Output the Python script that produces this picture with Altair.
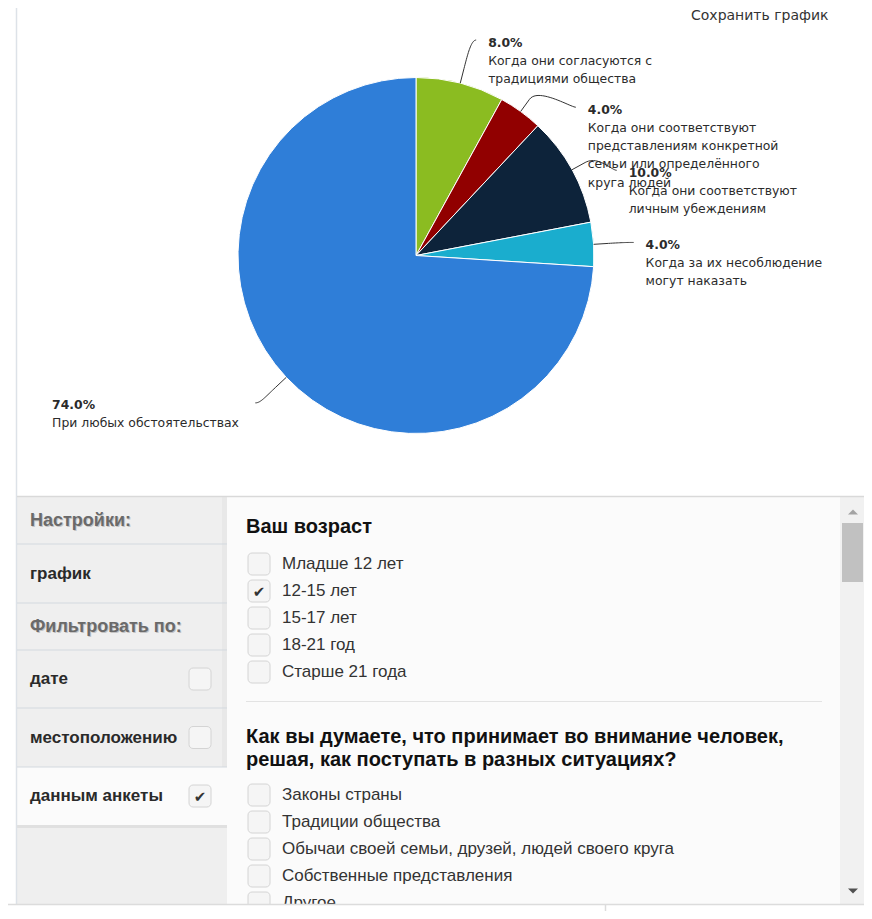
import math
import numpy as np
import pandas as pd
import altair as alt

# ---------------- chart data ----------------
slice_names = [
    "Когда они согласуются с традициями общества",
    "Когда они соответствуют представлениям конкретной семьи или определённого круга людей",
    "Когда они соответствуют личным убеждениям",
    "Когда за их несоблюдение могут наказать",
    "При любых обстоятельствах",
]
slice_lines = [
    ["Когда они согласуются с", "традициями общества"],
    ["Когда они соответствуют", "представлениям конкретной", "семьи или определённого", "круга людей"],
    ["Когда они соответствуют", "личным убеждениям"],
    ["Когда за их несоблюдение", "могут наказать"],
    ["При любых обстоятельствах"],
]
slice_shares = [8.0, 4.0, 10.0, 4.0, 74.0]
slice_colors = ["#8bbc21", "#910000", "#0d233a", "#1aadce", "#2f7ed8"]

save_label = "Сохранить график"

sidebar_items = ["Настройки:", "график", "Фильтровать по:", "дате", "местоположению", "данным анкеты"]
sidebar_kind = ["header", "item", "header", "check", "check", "check"]
sidebar_checked = [False, False, False, False, False, True]

age_title = "Ваш возраст"
age_options = ["Младше 12 лет", "12-15 лет", "15-17 лет", "18-21 год", "Старше 21 года"]
age_checked = [False, True, False, False, False]

q_title = ["Как вы думаете, что принимает во внимание человек,",
           "решая, как поступать в разных ситуациях?"]
q_options = ["Законы страны", "Традиции общества",
             "Обычаи своей семьи, друзей, людей своего круга",
             "Собственные представления", "Другое"]
q_checked = [False, False, False, False, False]

# ---------------- layout (page pixels) ----------------
CX, CY, R = 416.0, 255.5, 178.0
LABEL_DIST = 30.0
CONN_R = 218.0
BREAK = 15.0
label_nudge_y = [-14, 20, 15, 0, 5]
label_nudge_x = [27, 0, 0, 0, 0]
LINE_H = 18.3
CHAR_W = 7.65
LABEL_FONT = "DejaVu Sans"
LABEL_SIZE = 12.4
UI_FONT = "Liberation Sans"

PANEL_TOP, PANEL_BOTTOM = 497.0, 904.0
SIDE_X0, SIDE_X1 = 17.0, 227.0
CONTENT_X1, RIGHT = 840.0, 864.0
side_row_h = [47, 59, 47, 58, 59, 58]
OPT_STEP = 27.0

W, H = 856, 903
sx = alt.Scale(domain=[8, 8 + W], nice=False, zero=False)
sy = alt.Scale(domain=[8, 8 + H], nice=False, zero=False, reverse=True)


def X(f="x"):
    return alt.X(f"{f}:Q", scale=sx, axis=None)


def Y(f="y"):
    return alt.Y(f"{f}:Q", scale=sy, axis=None)


# ---------------- pie ----------------
pie_df = pd.DataFrame({"idx": range(len(slice_names)), "cat": slice_names, "share": slice_shares})
pie = alt.Chart(pie_df).mark_arc(radius=R, stroke="white", strokeWidth=1).encode(
    theta=alt.Theta("share:Q", stack=True),
    order=alt.Order("idx:Q"),
    color=alt.Color("cat:N", scale=alt.Scale(domain=slice_names, range=slice_colors), legend=None),
    x=alt.value(CX - 8),
    y=alt.value(CY - 8),
)

shares = np.array(slice_shares)
start = np.concatenate([[0.0], np.cumsum(shares)[:-1]])
mid = (start + shares / 2) / shares.sum() * 2 * np.pi

conn_rows, pct_rows, name_rows = [], [], []
for i, th in enumerate(mid):
    s, c = math.sin(th), math.cos(th)
    ex, ey = CX + R * s, CY - R * c
    bx, by = CX + (R + BREAK) * s, CY - (R + BREAK) * c
    yc = CY - (R + LABEL_DIST) * c + label_nudge_y[i]
    side = 1 if s >= 0 else -1
    xc = CX + side * math.sqrt(max(CONN_R ** 2 - (yc - CY) ** 2, 0.0)) + label_nudge_x[i]
    p0 = (xc, yc)
    p1 = (xc - 5 * side, yc)
    p2 = (2 * bx - ex, 2 * by - ey)
    p3 = (bx, by)
    ts = np.linspace(0, 1, 24)
    seq = 0
    for t in ts:
        u = 1 - t
        px = u ** 3 * p0[0] + 3 * u * u * t * p1[0] + 3 * u * t * t * p2[0] + t ** 3 * p3[0]
        py = u ** 3 * p0[1] + 3 * u * u * t * p1[1] + 3 * u * t * t * p2[1] + t ** 3 * p3[1]
        conn_rows.append({"sid": i, "seq": seq, "x": px, "y": py})
        seq += 1
    conn_rows.append({"sid": i, "seq": seq, "x": ex, "y": ey})
    if side > 0:
        tx = xc + 12
    else:
        tx = xc - 12 - max(len(l) for l in slice_lines[i]) * CHAR_W
    pct_rows.append({"x": tx, "y": yc + 6.5, "t": f"{slice_shares[i]:.1f}%"})
    name_rows.append({"x": tx, "y": yc + 24.5, "t": "\n".join(slice_lines[i])})

connectors = alt.Chart(pd.DataFrame(conn_rows)).mark_line(color="#333333", strokeWidth=1).encode(
    x=X(), y=Y(), detail="sid:N", order="seq:Q")
pct_text = alt.Chart(pd.DataFrame(pct_rows)).mark_text(
    align="left", baseline="alphabetic", font=LABEL_FONT, fontSize=LABEL_SIZE, fontWeight="bold",
    color="#2b2b2b"
).encode(x=X(), y=Y(), text="t:N")
name_text = alt.Chart(pd.DataFrame(name_rows)).mark_text(
    align="left", baseline="alphabetic", font=LABEL_FONT, fontSize=LABEL_SIZE, color="#2b2b2b",
    lineBreak="\n", lineHeight=LINE_H
).encode(x=X(), y=Y(), text="t:N")

save_text = alt.Chart(pd.DataFrame([{"x": 691, "y": 19.5, "t": save_label}])).mark_text(
    align="left", baseline="alphabetic", font=LABEL_FONT, fontSize=14, color="#333333"
).encode(x=X(), y=Y(), text="t:N")

# ---------------- settings panel ----------------
bounds = [PANEL_TOP]
for h in side_row_h:
    bounds.append(bounds[-1] + h)
row_c = [(bounds[k] + bounds[k + 1]) / 2 for k in range(len(side_row_h))]
sel = sidebar_checked.index(True)

fill_rects = pd.DataFrame([
    {"x": SIDE_X0, "x2": SIDE_X1, "y": PANEL_TOP, "y2": PANEL_BOTTOM, "f": "#efefef"},
    {"x": SIDE_X1 - 5, "x2": SIDE_X1, "y": PANEL_TOP, "y2": bounds[sel], "f": "#e8e8e8"},
    {"x": SIDE_X0, "x2": SIDE_X1, "y": bounds[sel + 1], "y2": bounds[sel + 1] + 3, "f": "#e0e0e0"},
    {"x": SIDE_X0, "x2": SIDE_X1, "y": bounds[sel], "y2": bounds[sel + 1], "f": "#fbfbfb"},
    {"x": SIDE_X1, "x2": CONTENT_X1, "y": PANEL_TOP, "y2": PANEL_BOTTOM, "f": "#fbfbfb"},
    {"x": CONTENT_X1, "x2": RIGHT, "y": PANEL_TOP, "y2": PANEL_BOTTOM, "f": "#f1f1f1"},
    {"x": CONTENT_X1 + 2, "x2": RIGHT - 1, "y": 523, "y2": 582, "f": "#c1c1c1"},
])
fills = alt.Chart(fill_rects).mark_rect().encode(
    x=X(), x2="x2:Q", y=Y(), y2="y2:Q", fill=alt.Fill("f:N", scale=None))

rule_rows = [
    {"x": 16.5, "x2": 16.5, "y": 8, "y2": PANEL_BOTTOM, "c": "#dde2e8", "w": 1.5},
    {"x": SIDE_X0, "x2": RIGHT, "y": PANEL_TOP - 0.5, "y2": PANEL_TOP - 0.5, "c": "#d9d9d9", "w": 1.5},
    {"x": 246, "x2": 822, "y": 701.5, "y2": 701.5, "c": "#e3e3e3", "w": 1},
]
for k in range(1, len(side_row_h)):
    rule_rows.append({"x": SIDE_X0, "x2": SIDE_X1, "y": bounds[k], "y2": bounds[k], "c": "#d3d9df", "w": 1})
rules = alt.Chart(pd.DataFrame(rule_rows)).mark_rule().encode(
    x=X(), x2="x2:Q", y=Y(), y2="y2:Q",
    stroke=alt.Stroke("c:N", scale=None), strokeWidth=alt.StrokeWidth("w:Q", scale=None))

# sidebar texts
hdr = pd.DataFrame([{"x": 30, "y": row_c[k], "t": sidebar_items[k]}
                    for k in range(len(sidebar_items)) if sidebar_kind[k] == "header"])
itm = pd.DataFrame([{"x": 30, "y": row_c[k], "t": sidebar_items[k]}
                    for k in range(len(sidebar_items)) if sidebar_kind[k] != "header"])
hdr_sh = hdr.assign(x=hdr.x + 1, y=hdr.y + 1.5)
side_hdr_shadow = alt.Chart(hdr_sh).mark_text(
    align="left", baseline="middle", font=UI_FONT, fontSize=18, fontWeight="bold", color="#c4c4c4"
).encode(x=X(), y=Y(), text="t:N")
side_hdr = alt.Chart(hdr).mark_text(
    align="left", baseline="middle", font=UI_FONT, fontSize=18, fontWeight="bold", color="#6a6a6a"
).encode(x=X(), y=Y(), text="t:N")
side_itm = alt.Chart(itm).mark_text(
    align="left", baseline="middle", font=UI_FONT, fontSize=17, fontWeight="bold", color="#2a2a2a"
).encode(x=X(), y=Y(), text="t:N")

# checkboxes
box_rows, tick_rows = [], []
for k in range(len(sidebar_items)):
    if sidebar_kind[k] == "check":
        box_rows.append({"x": 189, "x2": 211, "y": row_c[k] - 11, "y2": row_c[k] + 11})
        if sidebar_checked[k]:
            tick_rows.append({"x": 200, "y": row_c[k] + 1})
age_y = [564 + OPT_STEP * i for i in range(len(age_options))]
q_y = [795 + OPT_STEP * i for i in range(len(q_options))]
for yy, chk in list(zip(age_y, age_checked)) + list(zip(q_y, q_checked)):
    box_rows.append({"x": 248, "x2": 270, "y": yy - 11, "y2": yy + 11})
    if chk:
        tick_rows.append({"x": 259, "y": yy + 1})
boxes = alt.Chart(pd.DataFrame(box_rows)).mark_rect(
    cornerRadius=4, fill="#f5f5f5", stroke="#d4d4d4", strokeWidth=1
).encode(x=X(), x2="x2:Q", y=Y(), y2="y2:Q")
ticks = alt.Chart(pd.DataFrame(tick_rows).assign(t="✔")).mark_text(
    align="center", baseline="middle", font="DejaVu Sans", fontSize=15, color="#333333"
).encode(x=X(), y=Y(), text="t:N")

title_rows = [{"x": 246, "y": 526.7, "t": age_title}] + \
             [{"x": 246, "y": 737.3 + 23 * i, "t": q_title[i]} for i in range(len(q_title))]
titles = alt.Chart(pd.DataFrame(title_rows)).mark_text(
    align="left", baseline="middle", font=UI_FONT, fontSize=20, fontWeight="bold", color="#111111"
).encode(x=X(), y=Y(), text="t:N")
opt_rows = [{"x": 282, "y": yy, "t": t} for yy, t in zip(age_y, age_options)] + \
           [{"x": 282, "y": yy, "t": t} for yy, t in zip(q_y, q_options)]
opts = alt.Chart(pd.DataFrame(opt_rows)).mark_text(
    align="left", baseline="middle", font=UI_FONT, fontSize=17, color="#333333"
).encode(x=X(), y=Y(), text="t:N")

# scrollbar arrows
arrows = pd.DataFrame([
    {"x": 853, "y": 512, "s": "M-1,0.5L1,0.5L0,-0.5Z", "c": "#a3a3a3"},
    {"x": 853, "y": 891, "s": "M-1,-0.5L1,-0.5L0,0.5Z", "c": "#505050"},
])
arrow_marks = alt.Chart(arrows).mark_point(filled=True, size=100, opacity=1).encode(
    x=X(), y=Y(), shape=alt.Shape("s:N", scale=None), fill=alt.Fill("c:N", scale=None),
    stroke=alt.value(None))

# bottom cover and lines
cover = alt.Chart(pd.DataFrame([{"x": 8, "x2": RIGHT, "y": PANEL_BOTTOM, "y2": 8 + H}])).mark_rect(
    fill="#ffffff").encode(x=X(), x2="x2:Q", y=Y(), y2="y2:Q")
bottom_rules = alt.Chart(pd.DataFrame([
    {"x": 8, "x2": RIGHT, "y": PANEL_BOTTOM + 0.5, "y2": PANEL_BOTTOM + 0.5},
    {"x": 605.5, "x2": 605.5, "y": PANEL_BOTTOM, "y2": 8 + H},
])).mark_rule(color="#dcdcdc", strokeWidth=1.5).encode(x=X(), x2="x2:Q", y=Y(), y2="y2:Q")

chart = alt.layer(
    fills, rules, pie, connectors, pct_text, name_text, save_text,
    side_hdr_shadow, side_hdr, side_itm, boxes, ticks, titles, opts, arrow_marks,
    cover, bottom_rules,
).properties(
    width=W, height=H, padding=0, autosize=alt.AutoSizeParams(type="none"), background="white"
).configure_view(strokeWidth=0)

chart.save("out.html", embed_options={"renderer": "svg", "actions": False})
